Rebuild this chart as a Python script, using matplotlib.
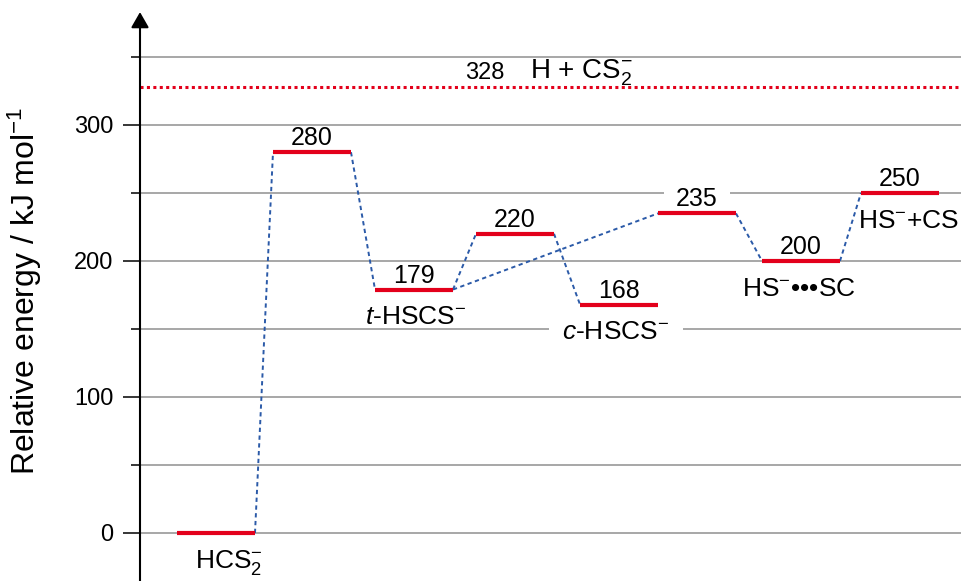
import matplotlib
matplotlib.use('Agg')
import matplotlib.pyplot as plt

plt.rcParams['font.family'] = ['Liberation Sans', 'DejaVu Sans']
plt.rcParams['mathtext.fontset'] = 'custom'
plt.rcParams['mathtext.rm'] = 'Liberation Sans'
plt.rcParams['mathtext.it'] = 'Liberation Sans:italic'

# relative energies (kJ/mol) of the stationary points along the path
energies = [0, 280, 179, 220, 168, 235, 200, 250]
species = [r'HCS$_2^{-}$', '', r'$\it{t}$-HSCS$^{-}$', '', r'$\it{c}$-HSCS$^{-}$',
           '', r'HS$^{-}$•••SC', r'HS$^{-}$+CS']
# which levels are joined by the reaction path
links = [(0, 1), (1, 2), (2, 3), (2, 5), (3, 4), (5, 6), (6, 7)]
# H + CS2- dissociation limit
limit_energy = 328
limit_label = r'H + CS$_2^{-}$'

# horizontal layout of the level bars
level_left = [37, 133, 235, 336, 440, 518, 622, 721]
level_width = 78
name_shift = [13, 0, 2, 0, -3, 0, -2, 9]
show_value = [False, True, True, True, True, True, True, True]
boxed_values = {5}
boxed_names = {4}

red = '#e3001b'
blue = '#2b5aa8'

fig = plt.figure(figsize=(9.62, 5.81), dpi=100)
ax = fig.add_axes([140 / 962, 0, 822 / 962, 1])
ax.set_xlim(0, 822)
ax.set_ylim(-35.3, 391.9)
for s in ax.spines.values():
    s.set_visible(False)
ax.set_xticks([])
ax.set_yticks([0, 100, 200, 300])
ax.set_yticks([50, 150, 250, 350], minor=True)
ax.tick_params(axis='y', which='major', length=12, width=1.1, pad=7, labelsize=17)
ax.tick_params(axis='y', which='minor', length=6.5, width=1.1)
ax.grid(axis='y', which='both', color='#a0a0a0', lw=1.3)
ax.set_axisbelow(True)

# vertical energy axis with arrow head
ax.annotate('', xy=(0, 383), xytext=(0, -35.3),
            arrowprops=dict(arrowstyle='-|>,head_length=0.47,head_width=0.27',
                            color='black', lw=1.5, shrinkA=0, shrinkB=0,
                            mutation_scale=20),
            annotation_clip=False)

ax.text(-0.14, 0.5, r'Relative energy / kJ mol$^{-1}$', transform=ax.transAxes,
        rotation=90, ha='center', va='center', fontsize=23)

# dissociation limit
ax.axhline(limit_energy, color=red, lw=2.2, ls=(0, (1, 1.1)), zorder=2)
ax.annotate(str(limit_energy), xy=(345, limit_energy), xytext=(0, 6),
            textcoords='offset points', ha='center', va='baseline', fontsize=17)
ax.annotate(limit_label, xy=(390, limit_energy), xytext=(0, 6),
            textcoords='offset points', ha='left', va='baseline', fontsize=20)

# dashed connectors
for a, b in links:
    xa = level_left[a] + level_width
    xb = level_left[b]
    ax.plot([xa, xb], [energies[a], energies[b]], color=blue, lw=1.4,
            ls=(0, (2.2, 1.8)), zorder=3)

# energy levels with values and names
white_box = dict(boxstyle='square,pad=0.5', fc='white', ec='none')
for i, (left, e) in enumerate(zip(level_left, energies)):
    xc = left + level_width / 2
    ax.plot([left, left + level_width], [e, e], color=red, lw=3,
            solid_capstyle='butt', zorder=4)
    if show_value[i]:
        ax.annotate(str(e), xy=(xc, e), xytext=(0, 5), textcoords='offset points',
                    ha='center', va='baseline', fontsize=18, zorder=2.5,
                    bbox=white_box if i in boxed_values else None)
    if species[i]:
        ax.annotate(species[i], xy=(xc + name_shift[i], e), xytext=(0, -25),
                    textcoords='offset points', ha='center', va='baseline',
                    fontsize=19, zorder=2.5,
                    bbox=white_box if i in boxed_names else None)

fig.savefig('out.png', dpi=100)
